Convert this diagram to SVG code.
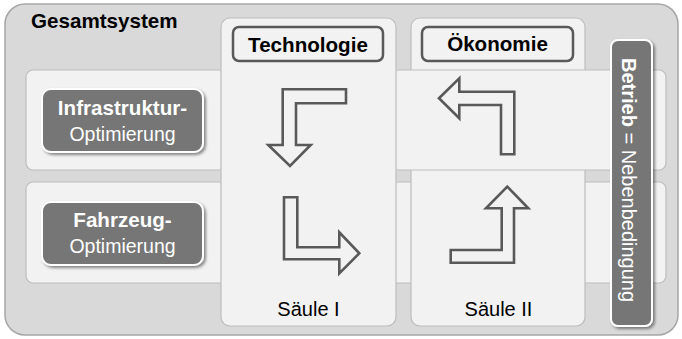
<svg xmlns="http://www.w3.org/2000/svg" width="682" height="339" viewBox="0 0 682 339">
<defs>
<filter id="sh" x="-20%" y="-20%" width="140%" height="140%">
<feDropShadow dx="2" dy="2" stdDeviation="1.8" flood-color="#000" flood-opacity="0.45"/>
</filter>
<style>
text{font-family:"Liberation Sans",Arial,sans-serif;font-size:20px}
.b{font-weight:bold;font-size:20.6px}
.panel{fill:#f2f2f2;stroke:#bdbdbd;stroke-width:1.2}
.lab{fill:#f2f2f2;stroke:#595959;stroke-width:2.5}
.dark{fill:#767676;stroke:#ffffff;stroke-width:2;filter:url(#sh)}
.wt{fill:#ffffff;text-anchor:middle}
.bk{fill:#000;text-anchor:middle}
.opt{font-size:19.5px}
.arr{fill:none;stroke:#595959;stroke-width:2.6;stroke-linejoin:miter}
</style>
</defs>
<g id="gesamtsystem">
<rect x="5" y="4" width="673" height="331" rx="20" fill="#d9d9d9" stroke="#a6a6a6" stroke-width="1.5"/>
<text x="31" y="28" class="b" fill="#000">Gesamtsystem</text>
</g>
<g id="row-fahrzeug-band"><rect class="panel" x="26" y="182" width="640" height="101" rx="7"/></g>
<g id="saeule-2-panel"><rect class="panel" x="411" y="18" width="174" height="308" rx="9"/></g>
<g id="row-infra-band"><rect class="panel" x="26" y="70" width="640" height="100" rx="7"/></g>
<g id="saeule-1">
<rect class="panel" x="221" y="18" width="175" height="308" rx="9"/>
<text x="308.5" y="316" class="bk" fill="#111">Säule I</text>
</g>
<g id="saeule-2-label"><text x="498.5" y="316" class="bk" fill="#111">Säule II</text></g>
<g id="technologie">
<rect class="lab" x="233" y="27" width="150" height="34" rx="6"/>
<text x="308" y="52" class="b bk">Technologie</text>
</g>
<g id="oekonomie">
<rect class="lab" x="422" y="27" width="151" height="34" rx="6"/>
<text x="497.5" y="51" class="b bk">Ökonomie</text>
</g>
<g id="infrastruktur">
<rect class="dark" x="42" y="89" width="161" height="63" rx="9"/>
<text x="122.5" y="115" class="b wt">Infrastruktur-</text>
<text x="122.5" y="141" class="wt opt">Optimierung</text>
</g>
<g id="fahrzeug">
<rect class="dark" x="42" y="202" width="161" height="63" rx="9"/>
<text x="122.5" y="227" class="b wt">Fahrzeug-</text>
<text x="122.5" y="253" class="wt opt">Optimierung</text>
</g>
<g id="betrieb">
<rect class="dark" x="611" y="40" width="41" height="286" rx="7"/>
<text transform="translate(622,58) rotate(90)" fill="#fff"><tspan font-weight="bold">Betrieb</tspan> = Nebenbedingung</text>
</g>
<g id="arrows">
<path class="arr" d="M282.7,89.3 H346 V103.3 H296 V145 H310.7 L290,166 L268.3,145 H282.7 Z"/>
<path class="arr" d="M284,197.3 H297.3 V247.3 H339.3 V232.3 L359.3,253.3 L339.3,273.3 V259.3 H284 Z"/>
<path class="arr" d="M439,98.3 L459.3,78.3 V91.7 H514.3 V154.3 H501 V105 H459.3 V118.3 Z"/>
<path class="arr" d="M507.3,186.7 L528.3,208.3 H514 V262.7 H450.7 V250 H501.7 V208.3 H486 Z"/>
</g>
</svg>
